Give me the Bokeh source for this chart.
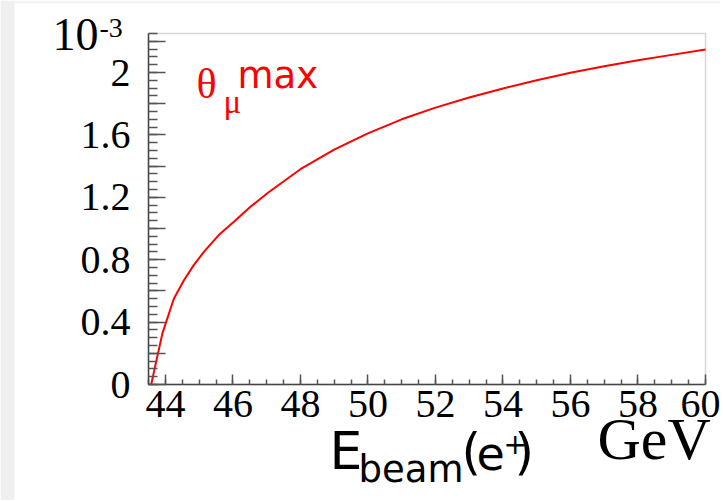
from bokeh.plotting import figure
from bokeh.models import Range1d, FixedTicker, Label, LinearAxis, BoxAnnotation
from bokeh.embed import file_html
from bokeh.resources import INLINE

# ---- data ----
e_beam = [43.58, 43.91, 44.25, 44.55, 44.84, 45.14, 45.58, 46.03, 46.52, 47.02,
          47.56, 48.0, 49.0, 50.0, 51.0, 52.0, 53.0, 54.0, 55.0, 56.0,
          57.0, 58.0, 59.0, 60.0]
theta_max = [0.0, 0.326, 0.55, 0.668, 0.765, 0.85, 0.958, 1.043, 1.139, 1.226,
             1.311, 1.38, 1.505, 1.61, 1.70, 1.775, 1.84, 1.897, 1.95, 1.998,
             2.04, 2.078, 2.113, 2.147]

x_ticks = [44, 46, 48, 50, 52, 54, 56, 58, 60]
y_ticks = [0, 0.2, 0.4, 0.6, 0.8, 1.0, 1.2, 1.4, 1.6, 1.8, 2.0, 2.2]
y_tick_labels = {0: "0", 0.2: "", 0.4: "0.4", 0.6: "", 0.8: "0.8", 1.0: "",
                 1.2: "1.2", 1.4: "", 1.6: "1.6", 1.8: "", 2.0: "2", 2.2: ""}

X_MIN, X_MAX = 43.5, 60.0
Y_MIN, Y_MAX = 0.0, 2.25

# ---- layout (canvas pixels) ----
W, H = 720, 500
FRAME_L, FRAME_T, FRAME_W, FRAME_H = 148, 33, 557, 351
SX = FRAME_W / (X_MAX - X_MIN)   # px per GeV
SY = FRAME_H / (Y_MAX - Y_MIN)   # px per 1e-3


def dx(px):
    return X_MIN + (px - FRAME_L) / SX


def dy(py):
    return Y_MIN + (FRAME_T + FRAME_H - py) / SY


p = figure(output_backend="svg", toolbar_location=None,
           width=W, height=H, min_border=0,
           x_axis_location=None, y_axis_location=None,
           x_range=Range1d(dx(0), dx(W)), y_range=Range1d(dy(H), dy(0)))

p.background_fill_color = "white"
p.border_fill_color = "white"
p.outline_line_color = None
p.grid.visible = False

# light page shadow of the reference (left strip and top strip)
p.add_layout(BoxAnnotation(right=dx(14), fill_color="#efefef", fill_alpha=1,
                           line_color=None, level="underlay"))
p.add_layout(BoxAnnotation(bottom=dy(3), left=dx(14), fill_color="#f4f4f4",
                           fill_alpha=1, line_color=None, level="underlay"))

# plot frame
p.add_layout(BoxAnnotation(left=X_MIN, right=X_MAX, bottom=Y_MIN, top=Y_MAX,
                           fill_color=None, line_color="#7a7a7a", line_width=1.5,
                           level="underlay"))

# x axis
xa = LinearAxis(fixed_location=Y_MIN, bounds=(X_MIN, X_MAX))
xa.ticker = FixedTicker(ticks=x_ticks,
                        minor_ticks=[X_MIN + 0.5 * i for i in range(34)])
xa.axis_line_color = "#444444"
xa.axis_line_width = 1.5
xa.major_tick_line_color = "#555555"
xa.minor_tick_line_color = "#555555"
xa.major_tick_line_width = 1.5
xa.minor_tick_line_width = 1.5
xa.major_tick_in = 10
xa.major_tick_out = 0
xa.minor_tick_in = 5
xa.minor_tick_out = 0
xa.major_label_text_font = "Liberation Serif"
xa.major_label_text_font_size = "40px"
xa.major_label_text_color = "black"
xa.major_label_standoff = 6
p.add_layout(xa, "below")

# y axis
ya = LinearAxis(fixed_location=X_MIN, bounds=(Y_MIN, Y_MAX))
ya.ticker = FixedTicker(ticks=y_ticks,
                        minor_ticks=[0.05 * i for i in range(46)])
ya.major_label_overrides = y_tick_labels
ya.axis_line_color = "#444444"
ya.axis_line_width = 1.5
ya.major_tick_line_color = "#555555"
ya.minor_tick_line_color = "#555555"
ya.major_tick_line_width = 1.5
ya.minor_tick_line_width = 1.5
ya.major_tick_in = 17
ya.major_tick_out = 0
ya.minor_tick_in = 9
ya.minor_tick_out = 0
ya.major_label_text_font = "Liberation Serif"
ya.major_label_text_font_size = "40px"
ya.major_label_text_color = "black"
ya.major_label_standoff = 18
p.add_layout(ya, "left")

# curve
p.line(e_beam, theta_max, line_color="#ff0000", line_width=2)


def add_text(txt, px, baseline_py, size_px, font, color="black"):
    # label anchored at the middle of its text box, about 0.34 em above the baseline
    p.add_layout(Label(x=dx(px), y=dy(baseline_py - 0.34 * size_px), text=txt,
                       text_font=font, text_font_size=f"{size_px}px",
                       text_color=color, text_align="left",
                       text_baseline="middle"))


# exponent label
add_text("10", 52, 50, 46, "Liberation Serif")
add_text("-3", 99, 37, 28, "Liberation Serif")

# curve label
add_text("θ", 196, 98, 42, "Liberation Serif", "#ff0000")
add_text("μ", 223, 113, 33, "Liberation Serif", "#ff0000")
add_text("max", 237, 88, 37, "DejaVu Sans", "#ff0000")

# x axis title
add_text("E", 329, 468, 52, "DejaVu Sans")
add_text("beam", 358, 482, 37, "DejaVu Sans")
add_text("(", 461, 468, 50, "DejaVu Sans")
add_text("e", 476, 468, 46, "DejaVu Sans")
add_text("+", 503, 453, 28, "DejaVu Sans")
add_text(")", 514, 468, 50, "DejaVu Sans")
add_text("GeV", 597, 459, 60, "Liberation Serif")

open("out.html", "w").write(file_html(p, INLINE))
